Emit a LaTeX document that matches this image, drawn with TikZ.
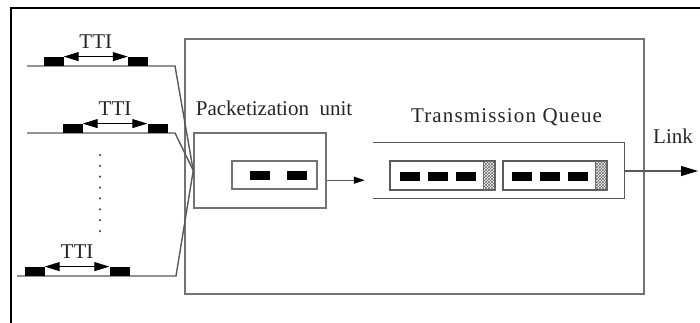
\documentclass[tikz,border=0pt]{standalone}
\usepackage{fontspec}
\setmainfont{Liberation Serif}
\newfontfamily\lserif{Liberation Serif}
\usetikzlibrary{arrows.meta,patterns}
\begin{document}
\begin{tikzpicture}[x=1pt,y=-1pt,
  ln/.style={draw=black!65, line width=1.4pt},
  box/.style={draw=black!55, line width=1.5pt, rectangle, inner sep=0pt},
  blk/.style={fill=black, rectangle, inner sep=0pt, minimum width=20pt, minimum height=9pt},
  tblk/.style={fill=black, rectangle, inner sep=0pt, minimum width=20pt, minimum height=9pt},
  lbl/.style={font=\lserif\fontsize{21}{24}\selectfont, inner sep=0pt, text=black!85},
  tti/.style={{Triangle[length=15pt,width=9pt]}-{Triangle[length=15pt,width=9pt]}, line width=1pt, draw=black},
  dotn/.style={fill=black!70, circle, inner sep=0pt, minimum size=2.5pt},
  pkt/.style={draw=black!65, line width=1.1pt, rectangle, inner sep=0pt, minimum height=29pt},
  hatch/.style={draw=black!60, line width=0.8pt, pattern=crosshatch, pattern color=black!60, rectangle, inner sep=0pt, minimum width=12pt, minimum height=29pt}
]
\useasboundingbox (0,0) rectangle (700,323);
\fill[white] (0,0) rectangle (700,323);
% outer frame
\coordinate (fbl) at (11,323);
\coordinate (ftl) at (11,8);
\coordinate (ftr) at (700,8);
\draw[line width=2.2pt, line join=miter] (fbl) -- (ftl) -- (ftr);

% big box
\node[box, minimum width=459pt, minimum height=255pt] (big) at (414.5,166.5) {};

% packetization unit
\node[box, minimum width=132pt, minimum height=75pt] (pack) at (260,170.5) {};
\node[box, line width=1.1pt, minimum width=85pt, minimum height=28pt] (packin) at (274.5,175) {};
\node[blk] (pb1) at (260,175.5) {};
\node[blk] (pb2) at (297,175.5) {};
\node[lbl, anchor=base] (plabel) at (274,116) {Packetization\ \ unit};

% transmission queue
\node[rectangle, inner sep=0pt, minimum width=251pt, minimum height=55pt] (queue) at (498.5,170.5) {};
\draw[ln] (queue.north west) -- (queue.north east) -- (queue.south east) -- (queue.south west);
\node[lbl, anchor=base] (qlabel) at (506.5,123) {\addfontfeature{LetterSpace=5.5}Transmission Queue};

\node[pkt, minimum width=105pt] (pkt1) at (442.5,175.5) {};
\node[hatch, anchor=east] (h1) at (pkt1.east) {};
\node[blk] (q1a) at (409.5,176) {};
\node[blk] (q1b) at (438,176) {};
\node[blk] (q1c) at (466,176) {};

\node[pkt, minimum width=104pt] (pkt2) at (555,175.5) {};
\node[hatch, anchor=east] (h2) at (pkt2.east) {};
\node[blk] (q2a) at (522,176) {};
\node[blk] (q2b) at (550,176) {};
\node[blk] (q2c) at (578,176) {};

% arrows
\draw[ln, line width=1pt, -{Triangle[length=11pt,width=7pt,color=black]}, shorten >=8pt] (pack.east |- pb2.south) -- (queue.west |- pb2.south);
\coordinate (linkend) at (698,171);
\draw[ln, line width=1.1pt, -{Triangle[length=17pt,width=10pt,color=black]}] (queue.east |- linkend) -- (linkend);
\node[lbl, anchor=base] (link) at (673,143) {Link};

% input line 1
\coordinate (s1) at (27,66);
\coordinate (b1) at (175,66);
\draw[ln] (s1) -- (b1) -- (pack.west);
\node[tblk, anchor=south] (r1a) at (53.5,66) {};
\node[tblk, anchor=south] (r1b) at (138,66) {};
\draw[tti] (r1a.north east) -- node[lbl, above=8pt] {TTI} (r1b.north west);

% input line 2
\coordinate (s2) at (27,133);
\coordinate (b2) at (175,133);
\draw[ln] (s2) -- (b2) -- (pack.west);
\node[tblk, anchor=south] (r2a) at (72.5,133) {};
\node[tblk, anchor=south] (r2b) at (157.5,133) {};
\draw[tti] (r2a.north east) -- node[lbl, above=8pt] {TTI} (r2b.north west);

% input line 3
\coordinate (s3) at (17,276);
\coordinate (b3) at (176,276);
\draw[ln] (s3) -- (b3) -- (pack.west);
\node[tblk, anchor=south] (r3a) at (34.5,276) {};
\node[tblk, anchor=south] (r3b) at (119.5,276) {};
\draw[tti] (r3a.north east) -- node[lbl, above=8pt] {TTI} (r3b.north west);

% dots
\foreach \i in {0,...,7} \node[dotn] (d\i) at (100,155+\i*10.86) {};
\end{tikzpicture}
\end{document}
